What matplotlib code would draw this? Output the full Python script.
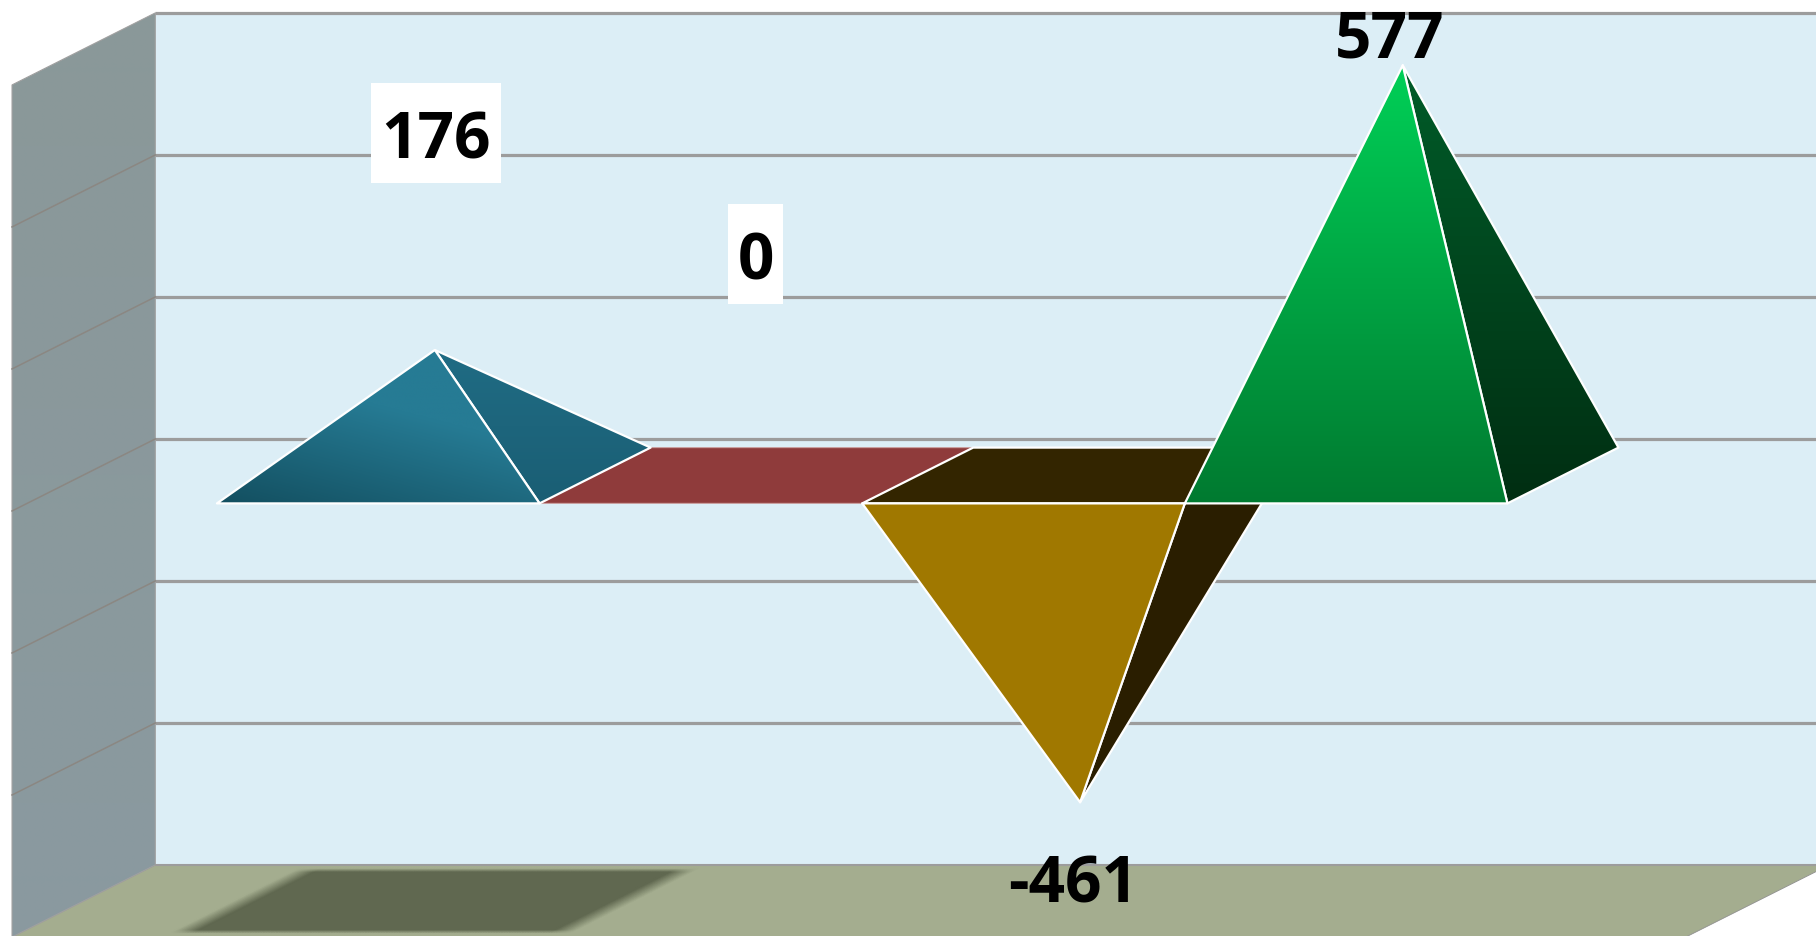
import numpy as np
import matplotlib
matplotlib.use("Agg")
import matplotlib.pyplot as plt
from matplotlib.colors import LinearSegmentedColormap, to_rgb
from matplotlib.patches import Polygon, Rectangle

# chart values
values = [176, 0, -461, 577]
label_text = ["176", "0", "-461", "577"]
label_x = [0.725, 1.716, 2.70, 3.68]
label_y = [532, 362, -516, 675]
grid_values = [-400, -200, 0, 200, 400, 600]

# oblique projection: depth 0 is the front of the floor, depth 1 the back wall
shear_x = 0.444
shear_y = 101.4
wall_left = -0.5885
wall_right = 4.6
axis_min = -600
axis_max = 600
front = 0.105
back = 0.88
mid = 0.5

fig = plt.figure(figsize=(18.16, 9.37), dpi=100)
ax = fig.add_axes([0, 0, 1, 1])
ax.set_xlim(-0.6258, 5.003)
ax.set_ylim(-598.6, 721)
ax.axis("off")


def pt(c, v, d):
    return (c + shear_x * d, v + shear_y * d)


def flat_face(points, color, edge="white", lw=1.6, z=3):
    ax.add_patch(Polygon(points, closed=True, facecolor=color, edgecolor=edge,
                         linewidth=lw, joinstyle="round", zorder=z))


def gradient_face(points, low, high, wx=0.0, wy=1.0, z=3, edge="white", lw=1.6):
    # colour runs from low to high across the bounding box of the face
    points = np.array(points)
    x0, y0 = points.min(axis=0)
    x1, y1 = points.max(axis=0)
    u, w = np.meshgrid(np.linspace(0, 1, 200), np.linspace(0, 1, 200))
    t = np.clip(wx * u + wy * w, 0, 1)[..., None]
    img = np.array(to_rgb(low)) * (1 - t) + np.array(to_rgb(high)) * t
    im = ax.imshow(img, origin="lower", extent=[x0, x1, y0, y1], aspect="auto",
                   interpolation="bilinear", zorder=z)
    im.set_clip_path(Polygon(points, closed=True, transform=ax.transData))
    ax.add_patch(Polygon(points, closed=True, fill=False, edgecolor=edge,
                         linewidth=lw, joinstyle="round", zorder=z))


# walls and floor
ax.add_patch(Polygon([pt(wall_left, axis_min, 1), pt(wall_right, axis_min, 1),
                      pt(wall_right, axis_max, 1), pt(wall_left, axis_max, 1)],
                     facecolor="#dceef6", edgecolor="none", zorder=1))
ax.add_patch(Polygon([pt(wall_left, axis_min, 0), pt(wall_right, axis_min, 0),
                      pt(wall_right, axis_min, 1), pt(wall_left, axis_min, 1)],
                     facecolor="#a4ad8f", edgecolor="#909090", linewidth=0.6, zorder=1))
gradient_face([pt(wall_left, axis_min, 0), pt(wall_left, axis_min, 1),
               pt(wall_left, axis_max, 1), pt(wall_left, axis_max, 0)],
              "#8a9aa0", "#8a9899", z=1, edge="#a0a0a0", lw=0.8)

# blurred shadow lying on the floor
cc, dd = np.meshgrid(np.linspace(-0.25, 1.25, 300), np.linspace(0.0, 1.0, 200))
soft = (np.clip((cc + 0.125) / 0.07, 0, 1) * np.clip((1.115 - cc) / 0.07, 0, 1)
        * np.clip((dd - 0.06) / 0.05, 0, 1) * np.clip((0.96 - dd) / 0.05, 0, 1))
shade = LinearSegmentedColormap.from_list("shade", ["#a4ad8f", "#606850"])
ax.pcolormesh(cc + shear_x * dd, axis_min + shear_y * dd, soft,
              cmap=shade, shading="gouraud", zorder=1.5)

# gridlines on the back wall and the side wall
for v in grid_values:
    (x0, y0), (x1, y1) = pt(wall_left, v, 1), pt(wall_right, v, 1)
    ax.plot([x0, x1], [y0, y1], color="#9c9c9c", lw=2.3, zorder=2, solid_capstyle="butt")
    if v < axis_max:
        (x2, y2) = pt(wall_left, v, 0)
        ax.plot([x2, x0], [y2, y0], color="#8b8782", lw=1.1, zorder=2)
(x0, y0), (x1, y1) = pt(wall_left, axis_min, 1), pt(wall_right, axis_min, 1)
ax.plot([x0, x1], [y0, y1], color="#9c9c9c", lw=1.5, zorder=2, solid_capstyle="butt")


# pyramids, one per category, base on the zero plane
def faces(i):
    v = values[i]
    return (pt(i, 0, front), pt(i + 1, 0, front), pt(i + 1, 0, back), pt(i, 0, back),
            pt(i + 0.5, v, mid))


# category 1: zero height, only the base shows
a, b, c, d, tip = faces(1)
flat_face([a, b, c, d], "#8f3b3b", edge="#c9a0a0", lw=0.8)

# category 0
a, b, c, d, tip = faces(0)
gradient_face([b, c, tip], "#1a5e74", "#206c84", z=3)
gradient_face([a, b, tip], "#134f60", "#267b94", wx=0.6, wy=1.1, z=3.1)

# category 2 hangs below the base
a, b, c, d, tip = faces(2)
flat_face([b, c, tip], "#2a1e00", z=3)
flat_face([a, b, c, d], "#332500", z=3.1)
flat_face([a, b, tip], "#a07800", z=3.2)

# category 3
a, b, c, d, tip = faces(3)
gradient_face([b, c, tip], "#002e12", "#005c29", z=3.3)
gradient_face([a, b, tip], "#007a30", "#00d057", z=3.4)

# data labels, the first two sit on white boxes
boxes = [0.404, 0.171, 0, 0]
for i in range(len(values)):
    if boxes[i] > 0:
        ax.add_patch(Rectangle((label_x[i] - boxes[i] / 2, label_y[i] - 70), boxes[i], 140,
                               facecolor="white", edgecolor="none", zorder=4))
    ax.text(label_x[i], label_y[i], label_text[i], ha="center", va="center_baseline",
            family="Open Sans", weight="bold", fontsize=46, color="black", zorder=5)

fig.savefig("out.png", dpi=100, facecolor="white")
